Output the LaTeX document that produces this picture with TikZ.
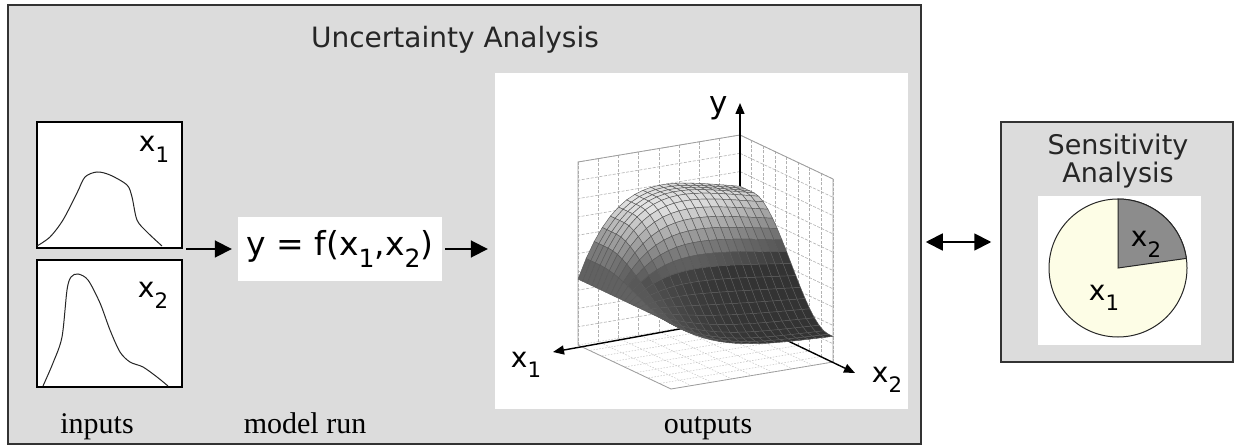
\documentclass[tikz,border=0pt]{standalone}
\usepackage{fontspec}
\setmainfont{DejaVu Sans}
\newfontfamily\capfont{Liberation Serif}
\usetikzlibrary{arrows.meta,calc,positioning}
\definecolor{panel}{HTML}{DCDCDC}
\definecolor{cream}{HTML}{FDFDE6}
\definecolor{slice}{HTML}{8C8C8C}
\newcommand{\lowidx}[1]{\raisebox{-0.38em}{\scalebox{0.76}{#1}}}

\begin{document}
\begin{tikzpicture}[
    x=1pt, y=-1pt,
    font=\fontsize{28}{30}\selectfont,
    every node/.style={align=center, inner sep=0pt},
    panelbox/.style={draw=black!80, line width=1.5pt, fill=panel},
    inbox/.style={draw=black, line width=1.5pt, fill=white, minimum width=145pt},
    whitebox/.style={fill=white},
    flow/.style={line width=1.8pt, -{Triangle[length=17pt,width=17pt]}},
    density/.style={black!85, line width=1pt},
    caption/.style={font=\capfont\fontsize{30}{32}\selectfont, anchor=base},
    wallgrid/.style={gray!60, line width=0.6pt, dash pattern=on 3pt off 1.5pt},
    walledge/.style={gray!75, line width=0.8pt},
    floorgrid/.style={gray!45, line width=0.5pt, dash pattern=on 1.5pt off 1.5pt},
    axis/.style={line width=1.4pt, -{Triangle[length=11pt,width=9pt]}},
    mesh/.style={draw=black!65, line width=0.45pt},
    declare function={
        clipt(\tq)=min(max(\tq,0),1);
        sstep(\tq)=3*clipt(\tq)^2-2*clipt(\tq)^3;
        hb(\sv)=0.14+0.58*(1-sstep((\sv-0.15)/0.8));
        hh(\su,\sv)=(1-\su^4)*hb(\sv)*(1+0.3*\su)+0.36*\su^4;
        sx(\su,\sv)=740-162*\su+93*\sv;
        sy(\su,\sv)=318+27*\su+44*\sv-183*hh(\su,\sv);
    }
]
\useasboundingbox (0,0) rectangle (1236,446);

% uncertainty panel
\node[panelbox, minimum width=913pt, minimum height=439pt] (ua) at (464.5,224.5) {};
\node[anchor=base, text=black!85] (uatitle) at (455,48) {Uncertainty Analysis};

% inputs
\node[inbox, minimum height=126pt] (in1) at (109.5,185) {};
\node[inbox, minimum height=127pt] (in2) at (109.5,323.5) {};
\node[anchor=base] (in1lab) at (154,152) {x\lowidx{1}};
\node[anchor=base] (in2lab) at (153,298) {x\lowidx{2}};
\draw[density] plot[smooth] coordinates {(37,246) (50,237) (63,220) (77,193) (85,177)
    (97,172) (110,175) (127,185) (132,197) (137,220) (147,232) (162,246)};
\draw[density] plot[smooth] coordinates {(43,386) (53,363) (62,337) (67,290) (71,277)
    (78,274) (88,280) (100,303) (110,330) (120,352) (130,362) (143,367) (157,377) (168,386)};

% model run
\node[whitebox, minimum width=204pt, minimum height=64pt, font=\fontsize{33}{36}\selectfont]
    (model) at (340,249) {y = f(x\lowidx{1},x\lowidx{2})};
\coordinate (inout) at (186,249);
\draw[flow, shorten >=6pt] (inout) -- (model.west);

% outputs
\node[whitebox, minimum width=413pt, minimum height=336pt] (plot) at (701.5,241) {};
\draw[flow, shorten <=3pt, shorten >=7pt] (model.east) -- (model.east -| plot.west);

\coordinate (B) at (740,318);
\coordinate (L) at (578,345);
\coordinate (R) at (833,362);
\coordinate (ytip) at (740,103);
\coordinate (x1tip) at (553,352);
\coordinate (x2tip) at (855,373);

% floor and walls
\foreach \k in {0,...,8} {
    \draw[floorgrid] ($(B)!\k/8!(L)$) -- ++(93,44);
    \draw[floorgrid] ($(B)!\k/8!(R)$) -- ++(-162,27);
    \draw[wallgrid] ($(B)!\k/8!(L)$) -- ++(0,-183);
    \draw[wallgrid] ($(B)!\k/8!(R)$) -- ++(0,-183);
}
\foreach \m in {1,...,10} {
    \draw[wallgrid] ($(B)+(0,-18.3*\m)$) -- ($(L)+(0,-18.3*\m)$);
    \draw[wallgrid] ($(B)+(0,-18.3*\m)$) -- ($(R)+(0,-18.3*\m)$);
}
\draw[walledge] (L) -- ++(0,-183) -- ($(B)+(0,-183)$) -- ($(R)+(0,-183)$) -- (R);
\draw[walledge] (L) -- ++(93,44) -- ($(R)+(-162,27)$) -- (R);

% axes
\draw[axis] (B) -- (ytip);
\draw[axis] (B) -- (x1tip);
\draw[axis] (B) -- (x2tip);
\node[anchor=base, font=\fontsize{31}{33}\selectfont] (ylab) at (719,114) {y};
\node[anchor=base] (x1lab) at (526,367) {x\lowidx{1}};
\node[anchor=base] (x2lab) at (887,382) {x\lowidx{2}};

% surface
\foreach \i in {0,...,19} {
    \foreach \j in {0,...,19} {
        \pgfmathsetmacro\ua{\i/20}
        \pgfmathsetmacro\ub{(\i+1)/20}
        \pgfmathsetmacro\va{\j/20}
        \pgfmathsetmacro\vb{(\j+1)/20}
        \pgfmathsetmacro\tone{80-65*clipt((hh((\ua+\ub)/2,(\va+\vb)/2)-0.45)/0.3)-18*\ub^4}
        \filldraw[mesh, fill=black!\tone] ({sx(\ua,\va)},{sy(\ua,\va)}) -- ({sx(\ub,\va)},{sy(\ub,\va)})
            -- ({sx(\ub,\vb)},{sy(\ub,\vb)}) -- ({sx(\ua,\vb)},{sy(\ua,\vb)}) -- cycle;
    }
}

% captions
\node[caption] (lin) at (97,433) {inputs};
\node[caption] (lmodel) at (305,433) {model run};
\node[caption] (lout) at (708,433) {outputs};

% sensitivity panel
\node[panelbox, minimum width=232pt, minimum height=240pt] (sa) at (1117,242) {};
\node[text=black!85, font=\fontsize{27}{26}\selectfont] (satitle) at (1118,161) {Sensitivity\\Analysis};
\node[whitebox, minimum width=163pt, minimum height=149pt] (pie) at (1119.5,270.5) {};
\coordinate (pc) at (1118,268);
\filldraw[fill=cream, draw=black!85, line width=1pt] (pc) circle[radius=69];
\filldraw[fill=slice, draw=black!85, line width=1pt] (pc) -- ++(0,-69)
    arc[start angle=-90, end angle=-8, radius=69] -- cycle;
\node[anchor=base] (pie2) at (1146,247) {x\lowidx{2}};
\node[anchor=base] (pie1) at (1104,300) {x\lowidx{1}};

\draw[line width=1.8pt, {Triangle[length=17pt,width=17pt]}-{Triangle[length=17pt,width=17pt]},
    shorten <=4pt, shorten >=9pt] (ua.east |- sa.west) -- (sa.west);

\end{tikzpicture}
\end{document}
